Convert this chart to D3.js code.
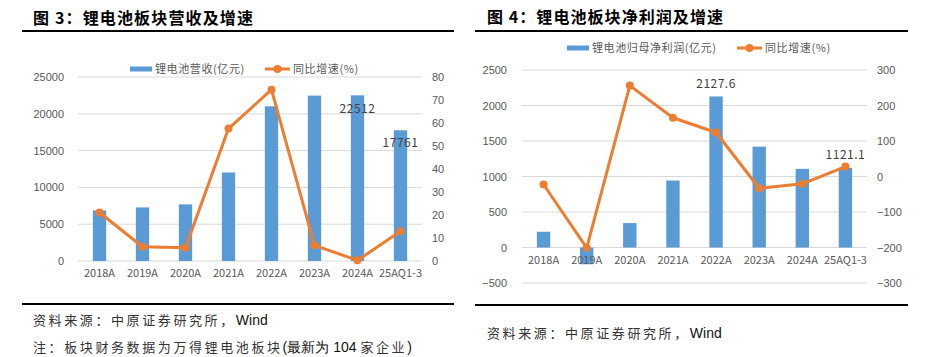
<!DOCTYPE html>
<html><head><meta charset="utf-8">
<script src="https://cdn.jsdelivr.net/npm/d3@7"></script>
<style>
html,body{margin:0;padding:0;background:#fff;}
svg{display:block;}
</style></head>
<body>
<svg id="c" width="930" height="357"></svg>
<script>
const categories = ["2018A","2019A","2020A","2021A","2022A","2023A","2024A","25AQ1-3"];
// Figure 3
const revenue = [6870, 7280, 7690, 12030, 21020, 22470, 22512, 17761];
const revenueGrowth = [21.1, 6.2, 5.8, 57.6, 74.5, 6.8, 0.3, 12.9];
const revLeftTicks = [0, 5000, 10000, 15000, 20000, 25000];
const revRightTicks = [0, 10, 20, 30, 40, 50, 60, 70, 80];
const revLabels = [null, null, null, null, null, null, "22512", "17761"];
// Figure 4
const profit = [222, -236, 344, 943, 2127.6, 1420, 1108, 1121.1];
const profitGrowth = [-22.6, -201, 256, 165.5, 124, -33, -20.7, 28];
const profLeftTicks = [-500, 0, 500, 1000, 1500, 2000, 2500];
const profRightTicks = [-300, -200, -100, 0, 100, 200, 300];
const profLabels = [null, null, null, null, "2127.6", null, null, "1121.1"];

const BLUE = "#5B9BD5", ORANGE = "#ED7D31", GRID = "#D9D9D9", TXT = "#595959";
const svg = d3.select("#c");
const CJK = "'Noto Sans CJK SC', sans-serif";
const NUM = "'Liberation Sans', Arial, sans-serif";

function richText(sel, parts) {
  parts.forEach(p => {
    const ts = sel.append("tspan").text(p[0]);
    if (p[1]) ts.attr("font-family", NUM).attr("font-size", 14).attr("fill", "#111").attr("letter-spacing", 0);
  });
}

function panel(o) {
  const g = svg.append("g");
  // title
  const t = g.append("text").attr("x", o.titleX).attr("y", o.titleY)
    .attr("font-family", CJK).attr("font-weight", "bold").attr("font-size", 16)
    .attr("fill", "#000").text(o.title);
  // fit title to its width in the reference
  const n = o.title.length;
  const w = t.node().getComputedTextLength();
  t.attr("letter-spacing", Math.max(0, (o.titleW - w) / (n - 1)));

  g.append("line").attr("x1", o.ruleX1).attr("x2", o.ruleX2).attr("y1", 31).attr("y2", 31)
    .attr("stroke", "#000").attr("stroke-width", 2);
  g.append("line").attr("x1", o.ruleX1).attr("x2", o.ruleX2).attr("y1", o.bottomRule).attr("y2", o.bottomRule)
    .attr("stroke", "#000").attr("stroke-width", 2);

  const x = d3.scaleBand().domain(categories).range([o.x0, o.x1]).paddingInner(0.69).paddingOuter(0.345);
  const yl = d3.scaleLinear().domain(o.lDomain).range([o.yBottom, o.yTop]);
  const yr = d3.scaleLinear().domain(o.rDomain).range([o.yBottom, o.yTop]);

  // grid
  g.append("g").selectAll("line").data(o.lTicks).join("line")
    .attr("x1", o.x0).attr("x2", o.x1)
    .attr("y1", d => yl(d)).attr("y2", d => yl(d))
    .attr("stroke", GRID).attr("stroke-width", 1);

  // left axis
  const la = d3.axisLeft(yl).tickValues(o.lTicks).tickSize(0).tickPadding(0).tickFormat(d3.format("d"));
  const lag = g.append("g").attr("transform", `translate(${o.lLabelX},0)`).call(la);
  lag.select(".domain").remove();
  lag.selectAll("text").attr("font-family", NUM).attr("font-size", 11).attr("fill", TXT)
    .text(d => d < 0 ? "\u2212" + Math.abs(d) : d);

  // right axis
  const ra = d3.axisRight(yr).tickValues(o.rTicks).tickSize(0).tickPadding(0).tickFormat(d3.format("d"));
  const rag = g.append("g").attr("transform", `translate(${o.rLabelX},0)`).call(ra);
  rag.select(".domain").remove();
  rag.selectAll("text").attr("font-family", NUM).attr("font-size", 11).attr("fill", TXT)
    .text(d => d < 0 ? "\u2212" + Math.abs(d) : d);

  // bars
  g.append("g").selectAll("rect").data(o.bars).join("rect")
    .attr("x", (d, i) => x(categories[i]))
    .attr("width", x.bandwidth())
    .attr("y", d => Math.min(yl(d), yl(0)))
    .attr("height", d => Math.abs(yl(d) - yl(0)))
    .attr("fill", BLUE);

  // x labels
  const xa = d3.axisBottom(x).tickSize(0).tickPadding(0);
  const xag = g.append("g").attr("transform", `translate(0,${o.xLabelY})`).call(xa);
  xag.select(".domain").remove();
  xag.selectAll("text").attr("font-family", CJK).attr("font-size", 11).attr("fill", TXT).attr("dy", "0.35em");

  // line
  const line = d3.line().x((d, i) => x(categories[i]) + x.bandwidth() / 2).y(d => yr(d));
  g.append("path").datum(o.line).attr("d", line).attr("fill", "none")
    .attr("stroke", ORANGE).attr("stroke-width", 3).attr("stroke-linejoin", "round");
  g.append("g").selectAll("circle").data(o.line).join("circle")
    .attr("cx", (d, i) => x(categories[i]) + x.bandwidth() / 2)
    .attr("cy", d => yr(d)).attr("r", 4).attr("fill", ORANGE);

  // data labels
  g.append("g").selectAll("text").data(o.labels.map((t, i) => ({t, i})).filter(d => d.t))
    .join("text")
    .attr("x", d => x(categories[d.i]) + x.bandwidth() / 2)
    .attr("y", d => yl(o.bars[d.i]) + o.labelOffset)
    .attr("text-anchor", "middle").attr("dy", "0.35em")
    .attr("font-family", CJK).attr("font-size", 12).attr("letter-spacing", 0.5).attr("fill", "#404040")
    .text(d => d.t);

  // legend
  const lg = g.append("g").attr("font-family", CJK).attr("font-size", 11).attr("fill", TXT).attr("letter-spacing", 0.6);
  lg.append("rect").attr("x", o.legX[0]).attr("y", o.legY - 2.5).attr("width", 22).attr("height", 5).attr("fill", BLUE);
  lg.append("text").attr("x", o.legX[0] + 25).attr("y", o.legY).attr("dy", "0.35em").text(o.legBar);
  lg.append("line").attr("x1", o.legX[1]).attr("x2", o.legX[1] + 25).attr("y1", o.legY).attr("y2", o.legY)
    .attr("stroke", ORANGE).attr("stroke-width", 3);
  lg.append("circle").attr("cx", o.legX[1] + 12.5).attr("cy", o.legY).attr("r", 4).attr("fill", ORANGE);
  lg.append("text").attr("x", o.legX[1] + 28).attr("y", o.legY).attr("dy", "0.35em").text(o.legLine);

  // notes
  o.notes.forEach(nt => {
    const tx = g.append("text").attr("x", o.titleX).attr("y", nt.y).attr("dy", "0.35em")
      .attr("font-family", CJK).attr("font-size", 13).attr("letter-spacing", 2.6).attr("fill", "#333");
    richText(tx, nt.parts);
  });
}

panel({
  title: "图 3：锂电池板块营收及增速", titleX: 33, titleY: 24, titleW: 220,
  ruleX1: 22, ruleX2: 454, bottomRule: 304,
  x0: 78, x1: 422, yTop: 77, yBottom: 261,
  lDomain: [0, 25000], rDomain: [0, 80],
  lTicks: revLeftTicks, rTicks: revRightTicks,
  lLabelX: 64, rLabelX: 432, xLabelY: 273,
  bars: revenue, line: revenueGrowth, labels: revLabels, labelOffset: 13,
  legX: [130, 265], legY: 69,
  legBar: "锂电池营收(亿元)", legLine: "同比增速(%)",
  notes: [
    {parts: [["资料来源：中原证券研究所，"], ["Wind", true]], y: 320},
    {parts: [["注：板块财务数据为万得锂电池板块"], ["(最新为 104 ", true], ["家企业"], [")", true]], y: 347}
  ]
});

panel({
  title: "图 4：锂电池板块净利润及增速", titleX: 487, titleY: 23, titleW: 236,
  ruleX1: 475, ruleX2: 908, bottomRule: 305,
  x0: 522, x1: 867, yTop: 70, yBottom: 283,
  lDomain: [-500, 2500], rDomain: [-300, 300],
  lTicks: profLeftTicks, rTicks: profRightTicks,
  lLabelX: 507, rLabelX: 877, xLabelY: 260,
  bars: profit, line: profitGrowth, labels: profLabels, labelOffset: -13,
  legX: [567, 737], legY: 48,
  legBar: "锂电池归母净利润(亿元)", legLine: "同比增速(%)",
  notes: [{parts: [["资料来源：中原证券研究所，"], ["Wind", true]], y: 333}]
});
</script>
</body></html>
